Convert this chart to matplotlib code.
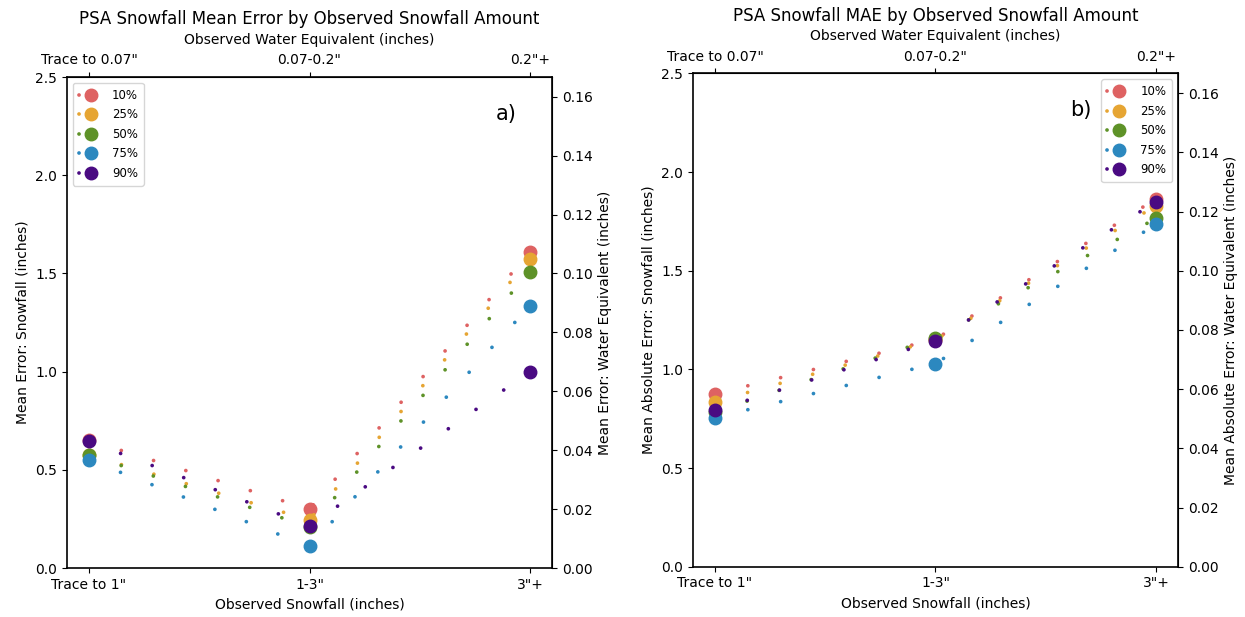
import matplotlib
matplotlib.use("Agg")
import matplotlib.pyplot as plt
from matplotlib.ticker import FormatStrFormatter

# ---------------- data ----------------
snow_categories = ['Trace to 1"', '1-3"', '3"+']
water_categories = ['Trace to 0.07"', '0.07-0.2"', '0.2"+']
percentiles = ['10%', '25%', '50%', '75%', '90%']
colors = ['#DE6262', '#E6A533', '#5E9228', '#2C88BF', '#4A0A82']

# Panel a: mean error (snowfall inches)
me_10 = [0.65, 0.30, 1.61]
me_25 = [0.575, 0.245, 1.575]
me_50 = [0.575, 0.21, 1.51]
me_75 = [0.55, 0.11, 1.335]
me_90 = [0.645, 0.215, 1.00]

# Panel b: mean absolute error (snowfall inches)
mae_10 = [0.876, 1.153, 1.865]
mae_25 = [0.837, 1.15, 1.83]
mae_50 = [0.785, 1.16, 1.765]
mae_75 = [0.755, 1.03, 1.735]
mae_90 = [0.792, 1.145, 1.85]

snow_to_water = 15.0

panels = [
    dict(series=[me_10, me_25, me_50, me_75, me_90],
         title='PSA Snowfall Mean Error by Observed Snowfall Amount',
         ylabel='Mean Error: Snowfall (inches)',
         ylabel2='Mean Error: Water Equivalent (inches)',
         tag='a)', tag_x=0.905, legend_loc='upper left',
         rect=[0.0538, 0.0794, 0.3896, 0.7956]),
    dict(series=[mae_10, mae_25, mae_50, mae_75, mae_90],
         title='PSA Snowfall MAE by Observed Snowfall Amount',
         ylabel='Mean Absolute Error: Snowfall (inches)',
         ylabel2='Mean Absolute Error: Water Equivalent (inches)',
         tag='b)', tag_x=0.80, legend_loc='upper right',
         rect=[0.5566, 0.0814, 0.3896, 0.7996]),
]

fig = plt.figure(figsize=(12.45, 6.17), dpi=100)

for p in panels:
    ax = fig.add_axes(p['rect'])
    xs = list(range(len(snow_categories)))
    for vals, lab, col in zip(p['series'], percentiles, colors):
        ax.plot(xs, vals, color=col, linestyle=(0, (0.01, 9.0)), linewidth=2.7,
                dash_capstyle='round', marker='o', markersize=9, label=lab)
    ax.set_xlim(-0.1, 2.1)
    ax.set_ylim(0, 2.5)
    ax.set_xticks(xs)
    ax.set_xticklabels(snow_categories)
    ax.set_yticks([0.0, 0.5, 1.0, 1.5, 2.0, 2.5])
    ax.yaxis.set_major_formatter(FormatStrFormatter('%.1f'))
    ax.set_xlabel('Observed Snowfall (inches)', fontsize=10)
    ax.set_ylabel(p['ylabel'], fontsize=10)
    ax.tick_params(labelsize=10)
    for s in ax.spines.values():
        s.set_linewidth(1.2)

    top = ax.secondary_xaxis('top')
    top.set_xticks(xs)
    top.set_xticklabels(water_categories)
    top.set_xlabel('Observed Water Equivalent (inches)', fontsize=10, labelpad=7)
    top.tick_params(labelsize=10)

    right = ax.secondary_yaxis('right', functions=(lambda y: y / snow_to_water,
                                                   lambda w: w * snow_to_water))
    right.set_yticks([0.0, 0.02, 0.04, 0.06, 0.08, 0.10, 0.12, 0.14, 0.16])
    right.yaxis.set_major_formatter(FormatStrFormatter('%.2f'))
    right.set_ylabel(p['ylabel2'], fontsize=10)
    right.tick_params(labelsize=10)

    ax.set_title(p['title'], fontsize=12, y=1.0, pad=38)
    ax.text(p['tag_x'], 0.925, p['tag'],
            transform=ax.transAxes, fontsize=15, ha='center', va='center')
    ax.legend(loc=p['legend_loc'], fontsize=8.5, handlelength=2.0,
              borderpad=0.5, labelspacing=0.55, handletextpad=0.8)

fig.savefig('out.png', dpi=100)
